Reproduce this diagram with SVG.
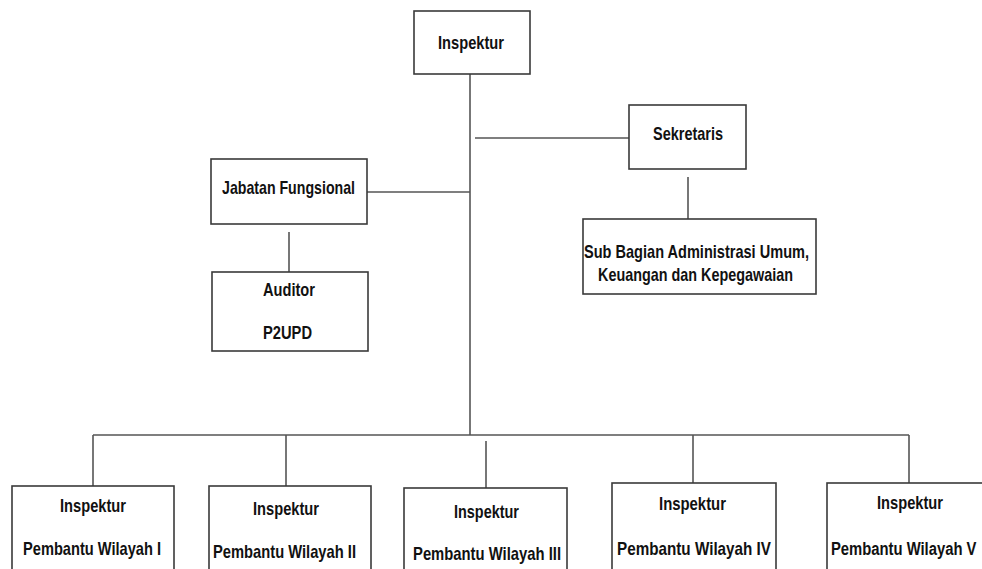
<svg xmlns="http://www.w3.org/2000/svg" width="982" height="569" viewBox="0 0 982 569">
<style>
.box{fill:#fff;stroke:#3a3a3a;stroke-width:1.6}
.ln{stroke:#555;stroke-width:1.6;fill:none}
.t{font-family:"Liberation Sans","Noto Sans",Arial,sans-serif;font-weight:bold;font-size:19px;fill:#111}
</style>
<rect width="982" height="569" fill="#fff"/>
<g id="connectors">
<line class="ln" x1="470" y1="74" x2="470" y2="435"/>
<line class="ln" x1="475" y1="138" x2="629" y2="138"/>
<line class="ln" x1="367" y1="192" x2="470" y2="192"/>
<line class="ln" x1="289" y1="232" x2="289" y2="272"/>
<line class="ln" x1="688" y1="177" x2="688" y2="222"/>
<line class="ln" x1="93" y1="435" x2="909" y2="435"/>
<line class="ln" x1="93" y1="435" x2="93" y2="486"/>
<line class="ln" x1="286" y1="435" x2="286" y2="486"/>
<line class="ln" x1="486" y1="441" x2="486" y2="488"/>
<line class="ln" x1="693" y1="435" x2="693" y2="483"/>
<line class="ln" x1="909" y1="435" x2="909" y2="483"/>
</g>
<g id="inspektur">
<rect class="box" x="414" y="11" width="116" height="63"/>
<text class="t" x="438" y="49" textLength="66" lengthAdjust="spacingAndGlyphs">Inspektur</text>
</g>
<g id="jabatan-fungsional">
<rect class="box" x="211" y="159" width="156" height="65"/>
<text class="t" x="222" y="194" textLength="133" lengthAdjust="spacingAndGlyphs">Jabatan Fungsional</text>
</g>
<g id="auditor">
<rect class="box" x="212" y="272" width="156" height="79"/>
<text class="t" x="263" y="296" textLength="52" lengthAdjust="spacingAndGlyphs">Auditor</text>
<text class="t" x="263" y="339" textLength="49" lengthAdjust="spacingAndGlyphs">P2UPD</text>
</g>
<g id="sekretaris">
<rect class="box" x="629" y="105" width="117" height="64"/>
<text class="t" x="653" y="140" textLength="70" lengthAdjust="spacingAndGlyphs">Sekretaris</text>
</g>
<g id="sub-bagian">
<rect class="box" x="583" y="219" width="233" height="75"/>
<text class="t" x="584" y="258" textLength="225" lengthAdjust="spacingAndGlyphs">Sub Bagian Administrasi Umum,</text>
<text class="t" x="598" y="281" textLength="195" lengthAdjust="spacingAndGlyphs">Keuangan dan Kepegawaian</text>
</g>
<g id="wilayah-1">
<rect class="box" x="12" y="486" width="162" height="100"/>
<text class="t" x="60" y="512" textLength="66" lengthAdjust="spacingAndGlyphs">Inspektur</text>
<text class="t" x="23" y="555" textLength="138" lengthAdjust="spacingAndGlyphs">Pembantu Wilayah I</text>
</g>
<g id="wilayah-2">
<rect class="box" x="209" y="486" width="162" height="100"/>
<text class="t" x="253" y="515" textLength="66" lengthAdjust="spacingAndGlyphs">Inspektur</text>
<text class="t" x="213" y="558" textLength="143" lengthAdjust="spacingAndGlyphs">Pembantu Wilayah II</text>
</g>
<g id="wilayah-3">
<rect class="box" x="404" y="488" width="163" height="100"/>
<text class="t" x="454" y="518" textLength="65" lengthAdjust="spacingAndGlyphs">Inspektur</text>
<text class="t" x="413" y="560" textLength="148" lengthAdjust="spacingAndGlyphs">Pembantu Wilayah III</text>
</g>
<g id="wilayah-4">
<rect class="box" x="612" y="483" width="164" height="100"/>
<text class="t" x="659" y="510" textLength="67" lengthAdjust="spacingAndGlyphs">Inspektur</text>
<text class="t" x="617" y="555" textLength="154" lengthAdjust="spacingAndGlyphs">Pembantu Wilayah IV</text>
</g>
<g id="wilayah-5">
<rect class="box" x="827" y="483" width="170" height="100"/>
<text class="t" x="877" y="509" textLength="66" lengthAdjust="spacingAndGlyphs">Inspektur</text>
<text class="t" transform="translate(831 555) scale(0.78 1)" x="0" y="0">Pembantu Wilayah V</text>
</g>
</svg>
